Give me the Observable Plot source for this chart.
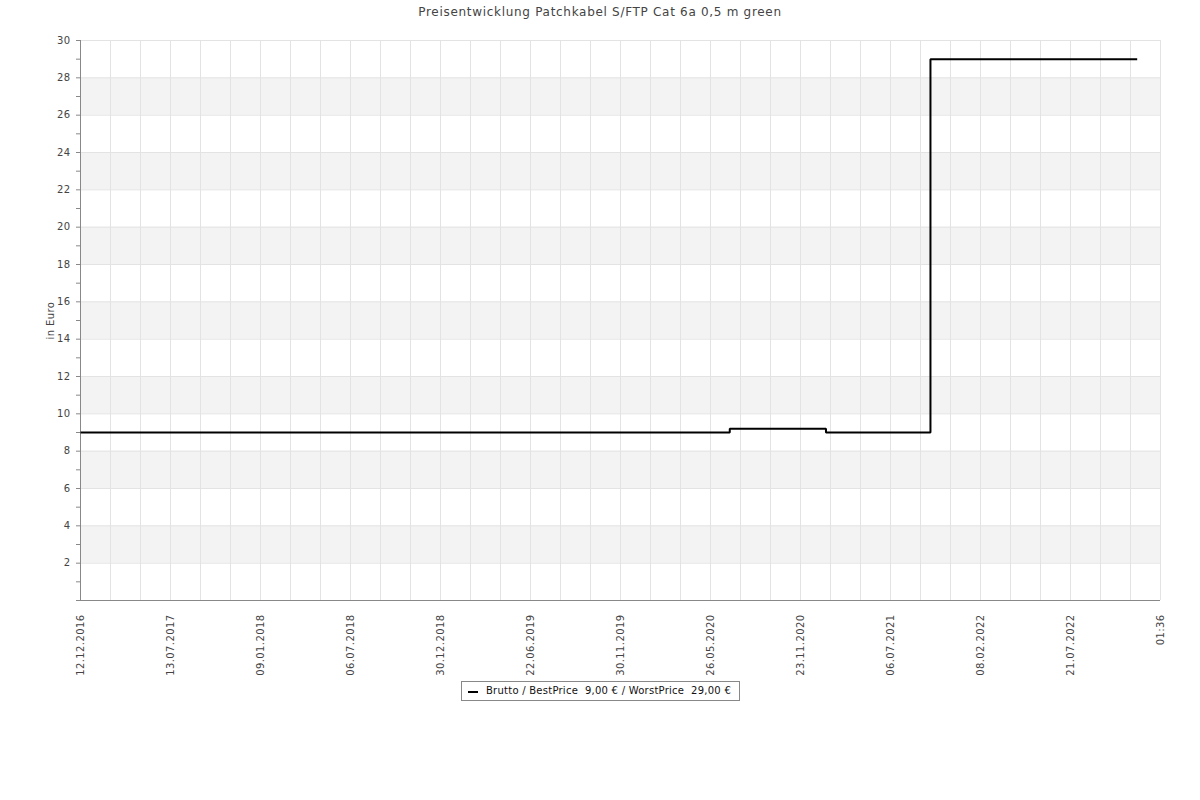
<!DOCTYPE html>
<html>
<head>
<meta charset="utf-8">
<script src="https://cdn.jsdelivr.net/npm/d3@7"></script>
<script src="https://cdn.jsdelivr.net/npm/@observablehq/plot@0.6"></script>
<style>
  body { margin: 0; background: #fff; font-family: "DejaVu Sans", sans-serif; }
  #wrap { position: relative; width: 1200px; height: 800px; }
  #title { position: absolute; left: 0; top: 4px; width: 1200px; text-align: center; font-size: 12px; color: #444; line-height: 16px; letter-spacing: 0.7px; }
  #chart { position: absolute; left: 0; top: 0; }
  #legend { position: absolute; left: 461px; top: 681px; width: 277px; height: 18px; border: 1px solid #888; font-size: 10px; color: #111; background: #fff; }
  #legend .swatch { position: absolute; left: 6px; top: 9px; width: 10px; height: 2px; background: #000; }
  #legend .txt { position: absolute; left: 24px; top: 3px; line-height: 12px; white-space: pre; letter-spacing: 0.25px; }
  #chart svg text { letter-spacing: 0.4px; }
</style>
</head>
<body>
<div id="wrap">
  <div id="chart"></div>
  <div id="title">Preisentwicklung Patchkabel S/FTP Cat 6a 0,5 m green</div>
  <div id="legend"><div class="swatch"></div><div class="txt">Brutto / BestPrice  9,00 € / WorstPrice  29,00 €</div></div>
</div>
<script>
// x-axis tick labels (categorical positions, one per major tick)
const xTickLabels = ["12.12.2016", "13.07.2017", "09.01.2018", "06.07.2018", "30.12.2018", "22.06.2019",
  "30.11.2019", "26.05.2020", "23.11.2020", "06.07.2021", "08.02.2022", "21.07.2022", "01:36"];
// price series: position along the tick index, price in Euro
const priceX = [0, 7.214, 8.283, 9.444, 11.741];
const priceY = [9, 9.2, 9, 29, 29];
// alternating shaded bands (Euro)
const bandLow = [2, 6, 10, 14, 18, 22, 26];
const bandHigh = [4, 8, 12, 16, 20, 24, 28];
const yTicks = d3.range(0, 31, 1);
const yGrid = d3.range(0, 31, 2);
const xMinor = d3.range(0, 37).map(i => i / 3);

const series = priceX.map((x, i) => ({x, y: priceY[i]}));
const bands = bandLow.map((lo, i) => ({lo, hi: bandHigh[i]}));

const chart = Plot.plot({
  width: 1200,
  height: 800,
  marginTop: 40,
  marginBottom: 200,
  marginLeft: 80,
  marginRight: 40,
  style: {fontFamily: "DejaVu Sans, sans-serif", background: "transparent"},
  x: {type: "linear", domain: [0, 12], axis: null},
  y: {domain: [0, 30], axis: null},
  marks: [
    Plot.rect(bands, {y1: "lo", y2: "hi", fill: "#f3f3f3"}),
    Plot.gridX(xMinor, {stroke: "#e3e3e3", strokeOpacity: 1}),
    Plot.gridY(yGrid, {stroke: "#e3e3e3", strokeOpacity: 1}),
    Plot.ruleX([0], {stroke: "#888"}),
    Plot.ruleY([0], {stroke: "#888"}),
    Plot.axisY({ticks: yTicks, tickSize: 4, tickFormat: () => "", color: "#888", label: null}),
    Plot.axisY({ticks: yTicks, tickSize: 0, tickPadding: 10, fontSize: 10, color: "#444", label: null,
      tickFormat: d => (d > 0 && d % 2 === 0) ? String(d) : ""}),
    Plot.axisX({ticks: d3.range(xTickLabels.length), tickSize: 0, tickPadding: 14, tickRotate: -90,
      fontSize: 10, color: "#444", label: null, tickFormat: i => xTickLabels[i]}),
    Plot.text(["in Euro"], {frameAnchor: "left", dx: -30, rotate: -90, textAnchor: "middle", fontSize: 10, fill: "#444"}),
    Plot.line(series, {x: "x", y: "y", curve: "step-after", stroke: "#000", strokeWidth: 2,
      strokeLinejoin: "miter", strokeLinecap: "butt"})
  ]
});
document.getElementById("chart").appendChild(chart);
</script>
</body>
</html>
